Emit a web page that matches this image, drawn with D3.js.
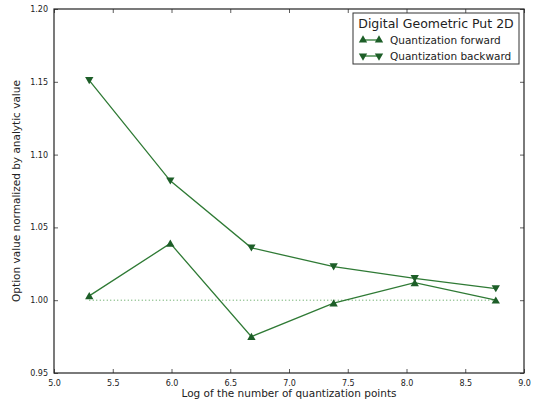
<!DOCTYPE html>
<html>
<head>
<meta charset="utf-8">
<script src="https://cdn.jsdelivr.net/npm/d3@7"></script>
<style>
	body { margin: 0; background: #fff; }
	text { font-family: "DejaVu Sans", sans-serif; fill: #222; }
</style>
</head>
<body>
<div id="chart"></div>
<script>
// data
var logPoints = [5.30, 5.99, 6.68, 7.38, 8.07, 8.76];
var forwardValues = [1.003, 1.039, 0.975, 0.998, 1.012, 1.000];
var backwardValues = [1.151, 1.082, 1.036, 1.023, 1.015, 1.008];
var xTicks = [5.0, 5.5, 6.0, 6.5, 7.0, 7.5, 8.0, 8.5, 9.0];
var yTicks = [0.95, 1.00, 1.05, 1.10, 1.15, 1.20];
var seriesNames = ["Quantization forward", "Quantization backward"];
var legendTitle = "Digital Geometric Put 2D";

var width = 538, height = 405;
var box = { left: 54, right: 524, top: 9, bottom: 373 };

var lineColor = "#2f7a35",
	markerColor = "#1d5e28";

var svg = d3.select("#chart").append("svg")
	.attr("width", width)
	.attr("height", height);

var x = d3.scaleLinear().domain([5, 9]).range([box.left, box.right]);
var y = d3.scaleLinear().domain([0.95, 1.20]).range([box.bottom, box.top]);

// axes, ticks pointing inward on all four sides
var fmt = d3.format(".1f"), fmtY = d3.format(".2f");
svg.append("g").attr("transform", "translate(0," + box.bottom + ")")
	.call(d3.axisBottom(x).tickValues(xTicks).tickFormat(fmt).tickSizeInner(-4).tickSizeOuter(0).tickPadding(7));
svg.append("g").attr("transform", "translate(0," + box.top + ")")
	.call(d3.axisTop(x).tickValues(xTicks).tickFormat("").tickSizeInner(-4).tickSizeOuter(0));
svg.append("g").attr("transform", "translate(" + box.left + ",0)")
	.call(d3.axisLeft(y).tickValues(yTicks).tickFormat(fmtY).tickSizeInner(-4).tickSizeOuter(0).tickPadding(6));
svg.append("g").attr("transform", "translate(" + box.right + ",0)")
	.call(d3.axisRight(y).tickValues(yTicks).tickFormat("").tickSizeInner(-4).tickSizeOuter(0));

svg.selectAll(".domain").remove();
svg.selectAll(".tick line").attr("stroke", "#333").attr("stroke-width", 0.8);
svg.selectAll(".tick text").style("font-size", "8px").attr("fill", "#444");

svg.append("rect")
	.attr("x", box.left).attr("y", box.top)
	.attr("width", box.right - box.left).attr("height", box.bottom - box.top)
	.attr("fill", "none").attr("stroke", "#222").attr("stroke-width", 1.2);

// reference line at 1.0
svg.append("line")
	.attr("x1", x(logPoints[0])).attr("x2", x(logPoints[logPoints.length - 1]))
	.attr("y1", y(1)).attr("y2", y(1))
	.attr("stroke", "#4c9a4c").attr("stroke-width", 1)
	.attr("stroke-dasharray", "1,2.5");

var line = d3.line()
	.x(function(d) { return x(d[0]); })
	.y(function(d) { return y(d[1]); });

var tri = d3.symbol().type(d3.symbolTriangle).size(30);

function drawSeries(values, flip) {
	var pts = logPoints.map(function(v, i) { return [v, values[i]]; });
	svg.append("path")
		.datum(pts)
		.attr("d", line)
		.attr("fill", "none")
		.attr("stroke", lineColor)
		.attr("stroke-width", 1.3);
	svg.selectAll(null)
		.data(pts)
		.enter()
		.append("path")
		.attr("d", tri)
		.attr("transform", function(d) {
			return "translate(" + x(d[0]) + "," + (y(d[1]) + (flip ? -1 : 1)) + ")" + (flip ? " rotate(180)" : "");
		})
		.attr("fill", markerColor);
}

drawSeries(forwardValues, false);
drawSeries(backwardValues, true);

// legend
var lg = svg.append("g").attr("transform", "translate(353,13)");
lg.append("rect")
	.attr("width", 166).attr("height", 51)
	.attr("fill", "#fff").attr("stroke", "#333").attr("stroke-width", 1);
lg.append("text")
	.attr("x", 83).attr("y", 15)
	.attr("text-anchor", "middle")
	.style("font-size", "12.5px")
	.text(legendTitle);
seriesNames.forEach(function(name, i) {
	var yy = 27 + i * 16;
	lg.append("line")
		.attr("x1", 10).attr("x2", 26).attr("y1", yy).attr("y2", yy)
		.attr("stroke", lineColor).attr("stroke-width", 1.3);
	[10, 26].forEach(function(px) {
		lg.append("path")
			.attr("d", tri)
			.attr("transform", "translate(" + px + "," + yy + ")" + (i ? " rotate(180)" : ""))
			.attr("fill", markerColor);
	});
	lg.append("text")
		.attr("x", 37).attr("y", yy + 4)
		.style("font-size", "10.5px")
		.text(name);
});

// axis titles
svg.append("text")
	.attr("x", (box.left + box.right) / 2).attr("y", 397)
	.attr("text-anchor", "middle")
	.style("font-size", "10.5px")
	.text("Log of the number of quantization points");
svg.append("text")
	.attr("transform", "translate(20," + ((box.top + box.bottom) / 2) + ") rotate(-90)")
	.attr("text-anchor", "middle")
	.style("font-size", "10.5px")
	.text("Option value normalized by analytic value");
</script>
</body>
</html>
